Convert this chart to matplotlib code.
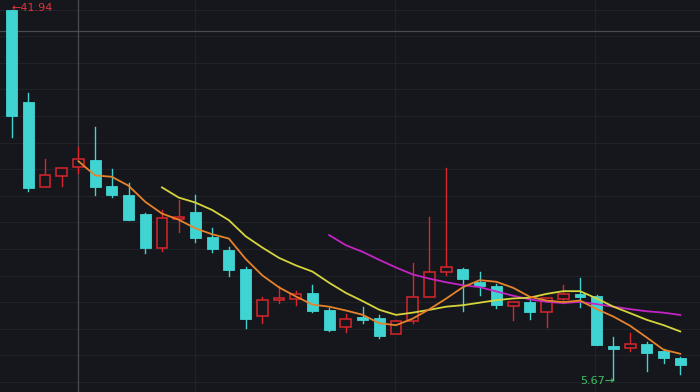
import matplotlib
matplotlib.use("Agg")
import matplotlib.pyplot as plt
from matplotlib.patches import Rectangle
import numpy as np
import pandas as pd

# ---- data ----
opens = [41.94, 32.92, 24.59, 25.67, 26.55, 27.24, 24.69, 23.80, 21.94, 18.61,
         21.50, 22.14, 19.69, 18.46, 16.55, 11.94, 13.56, 13.56, 14.15, 12.48,
         10.86, 11.84, 11.75, 10.18, 11.45, 13.81, 16.26, 16.55, 15.28, 14.88,
         12.92, 13.32, 12.34, 13.61, 14.10, 13.90, 9.00, 8.81, 9.20, 8.51, 7.83]
highs = [41.94, 33.80, 27.33, 26.45, 28.51, 30.47, 26.35, 24.98, 22.04, 22.33,
         23.31, 23.80, 20.52, 18.71, 16.70, 13.85, 14.88, 14.44, 14.98, 12.73,
         12.14, 12.82, 12.04, 11.55, 17.14, 21.65, 26.45, 16.65, 16.21, 15.08,
         13.32, 13.61, 13.71, 14.98, 15.67, 14.00, 9.88, 10.28, 9.39, 8.71, 7.88]
lows = [29.49, 24.20, 24.55, 24.69, 25.96, 23.80, 23.61, 21.35, 18.12, 18.27,
        20.18, 19.20, 18.17, 15.86, 10.72, 11.26, 13.22, 13.02, 12.34, 10.47,
        10.33, 11.26, 9.79, 10.13, 11.26, 13.76, 15.96, 12.43, 14.00, 12.73,
        11.55, 11.65, 10.86, 13.22, 12.82, 9.05, 5.67, 8.51, 6.55, 7.34, 6.26]
closes = [31.55, 24.49, 25.77, 26.45, 27.33, 24.59, 23.80, 21.40, 18.56, 21.55,
          21.60, 19.55, 18.51, 16.45, 11.60, 13.51, 13.66, 14.10, 12.43, 10.57,
          11.65, 11.55, 9.98, 11.45, 13.81, 16.26, 16.75, 15.57, 14.88, 13.02,
          13.32, 12.34, 13.71, 14.10, 13.81, 9.10, 8.71, 9.20, 8.32, 7.83, 7.14]
max_label = "41.94"
min_label = "5.67"

# ---- style ----
BG = "#16171c"
UP = "#d8262c"
DOWN = "#3fd4d2"
C_MA5 = "#e5832c"
C_MA10 = "#d6d43c"
C_MA20 = "#c424c6"

fig = plt.figure(figsize=(7.0, 3.92), dpi=100, facecolor=BG)
ax = fig.add_axes([0, 0, 1, 1])
ax.set_facecolor(BG)
for s in ax.spines.values():
    s.set_visible(False)
ax.set_xticks([])
ax.set_yticks([])

n = len(closes)
ax.set_xlim(-0.688, 41.18)
ax.set_ylim(4.49, 42.92)

# grid (pixel-based positions of the reference)
H = 392.0
for ypx in np.arange(382, 0, -26.6):
    f = 1 - ypx / H
    ax.plot([0, 1], [f, f], transform=ax.transAxes, color="#212228", lw=0.8, zorder=0)
for xpx in [195, 395, 595]:
    f = xpx / 700.0
    ax.plot([f, f], [0, 1], transform=ax.transAxes, color="#212228", lw=0.8, zorder=0)
# crosshair
ax.plot([0, 1], [1 - 31 / H, 1 - 31 / H], transform=ax.transAxes, color="#4a4c52", lw=0.9, zorder=0.5)
ax.plot([78 / 700, 78 / 700], [0, 1], transform=ax.transAxes, color="#4a4c52", lw=0.9, zorder=0.5)

w = 0.65
min_h = 0.14
for i in range(n):
    o, h, l, c = opens[i], highs[i], lows[i], closes[i]
    up = c >= o
    top, bot = max(o, c), min(o, c)
    if top - bot < min_h:
        mid = (top + bot) / 2
        top, bot = mid + min_h / 2, mid - min_h / 2
    if up:
        ax.plot([i, i], [top, h], color=UP, lw=1.0, zorder=2)
        ax.plot([i, i], [l, bot], color=UP, lw=1.0, zorder=2)
        ax.add_patch(Rectangle((i - w / 2, bot), w, top - bot, facecolor=BG,
                               edgecolor=UP, lw=1.1, zorder=3))
    else:
        ax.plot([i, i], [l, h], color=DOWN, lw=1.0, zorder=2)
        ax.add_patch(Rectangle((i - w / 2, bot), w, top - bot, facecolor=DOWN,
                               edgecolor=DOWN, lw=0.6, zorder=3))

cs = pd.Series(closes)
x = np.arange(n)
ax.plot(x, cs.rolling(20).mean(), color=C_MA20, lw=1.3, zorder=4)
ax.plot(x, cs.rolling(10).mean(), color=C_MA10, lw=1.3, zorder=4)
ax.plot(x, cs.rolling(5).mean(), color=C_MA5, lw=1.3, zorder=4)

# max / min labels
imax = int(np.argmax(highs))
imin = int(np.argmin(lows))
ax.text(imax, highs[imax] + 0.15, "\u2190" + max_label, color="#e0333a",
        fontsize=8, ha="left", va="center", zorder=5)
ax.text(imin + 0.05, lows[imin] - 0.1, min_label + "\u2192", color="#3fbf62",
        fontsize=8, ha="right", va="center", zorder=5)

fig.savefig("out.png", dpi=100, facecolor=BG)
